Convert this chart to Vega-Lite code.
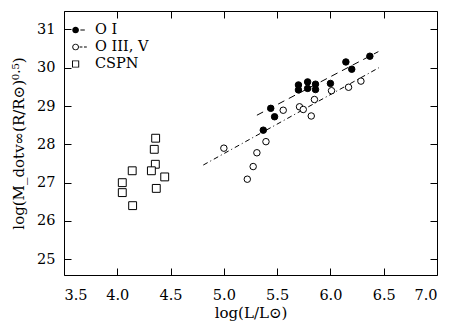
{
  "$schema": "https://vega.github.io/schema/vega-lite/v6.json",
  "width": 373,
  "height": 264,
  "autosize": "none",
  "padding": {"left": 64, "top": 11, "right": 22, "bottom": 60},
  "background": "white",
  "config": {
    "view": {"stroke": "black", "strokeWidth": 1},
    "font": "DejaVu Serif",
    "axis": {"grid": false, "domain": false, "tickColor": "black", "labelColor": "black", "titleColor": "black", "labelFont": "DejaVu Serif", "titleFont": "DejaVu Serif", "labelFontSize": 14.5, "titleFontSize": 15, "titleFontWeight": "normal"}
  },
  "datasets": {
    "pts": [
      {"x": 5.37, "y": 28.37, "series": "O I"},
      {"x": 5.44, "y": 28.94, "series": "O I"},
      {"x": 5.476, "y": 28.72, "series": "O I"},
      {"x": 5.70, "y": 29.55, "series": "O I"},
      {"x": 5.70, "y": 29.42, "series": "O I"},
      {"x": 5.786, "y": 29.63, "series": "O I"},
      {"x": 5.786, "y": 29.46, "series": "O I"},
      {"x": 5.86, "y": 29.57, "series": "O I"},
      {"x": 5.86, "y": 29.43, "series": "O I"},
      {"x": 6.0, "y": 29.59, "series": "O I"},
      {"x": 6.145, "y": 30.15, "series": "O I"},
      {"x": 6.20, "y": 29.96, "series": "O I"},
      {"x": 6.37, "y": 30.30, "series": "O I"},
      {"x": 5.0, "y": 27.9, "series": "O III, V"},
      {"x": 5.22, "y": 27.09, "series": "O III, V"},
      {"x": 5.275, "y": 27.42, "series": "O III, V"},
      {"x": 5.31, "y": 27.78, "series": "O III, V"},
      {"x": 5.395, "y": 28.07, "series": "O III, V"},
      {"x": 5.557, "y": 28.89, "series": "O III, V"},
      {"x": 5.71, "y": 28.98, "series": "O III, V"},
      {"x": 5.745, "y": 28.91, "series": "O III, V"},
      {"x": 5.82, "y": 28.74, "series": "O III, V"},
      {"x": 5.85, "y": 29.17, "series": "O III, V"},
      {"x": 6.01, "y": 29.40, "series": "O III, V"},
      {"x": 6.17, "y": 29.49, "series": "O III, V"},
      {"x": 6.286, "y": 29.65, "series": "O III, V"},
      {"x": 4.36, "y": 28.16, "series": "CSPN"},
      {"x": 4.347, "y": 27.87, "series": "CSPN"},
      {"x": 4.357, "y": 27.48, "series": "CSPN"},
      {"x": 4.32, "y": 27.31, "series": "CSPN"},
      {"x": 4.14, "y": 27.31, "series": "CSPN"},
      {"x": 4.445, "y": 27.15, "series": "CSPN"},
      {"x": 4.047, "y": 27.0, "series": "CSPN"},
      {"x": 4.047, "y": 26.74, "series": "CSPN"},
      {"x": 4.366, "y": 26.85, "series": "CSPN"},
      {"x": 4.144, "y": 26.40, "series": "CSPN"}
    ],
    "fits": [
      {"x": 5.31, "y": 28.76, "fit": "O I"},
      {"x": 6.45, "y": 30.42, "fit": "O I"},
      {"x": 4.807, "y": 27.46, "fit": "O III, V"},
      {"x": 6.455, "y": 30.0, "fit": "O III, V"}
    ]
  },
  "layer": [
    {
      "data": {"name": "fits"},
      "mark": {"type": "line", "color": "black", "strokeWidth": 1},
      "encoding": {
        "x": {"field": "x", "type": "quantitative", "scale": {"domain": [3.5, 7.0], "nice": false, "zero": false},
              "axis": {"orient": "top", "labels": false, "title": null, "values": [3.5, 4.0, 4.5, 5.0, 5.5, 6.0, 6.5, 7.0], "tickSize": -7}},
        "y": {"field": "y", "type": "quantitative", "scale": {"domain": [24.59, 31.48], "nice": false, "zero": false},
              "axis": {"orient": "right", "labels": false, "title": null, "values": [25, 26, 27, 28, 29, 30, 31], "tickSize": -7}},
        "strokeDash": {"field": "fit", "type": "nominal", "scale": {"domain": ["O I", "O III, V"], "range": [[7, 5], [5, 3, 1, 3]]}, "legend": null}
      }
    },
    {
      "data": {"name": "pts"},
      "transform": [{"filter": "datum.series !== 'CSPN'"}],
      "mark": {"type": "point", "filled": true, "stroke": "black", "strokeWidth": 1, "opacity": 1, "size": 42},
      "encoding": {
        "x": {"field": "x", "type": "quantitative",
              "axis": {"orient": "bottom", "title": "log(L/L⊙)", "values": [3.5, 4.0, 4.5, 5.0, 5.5, 6.0, 6.5, 7.0], "format": ".1f", "tickSize": -7, "labelPadding": 20, "titlePadding": 4}},
        "y": {"field": "y", "type": "quantitative",
              "axis": {"orient": "left", "title": "log(M_dotv∞(R/R⊙)⁰·⁵)", "values": [25, 26, 27, 28, 29, 30, 31], "tickSize": -7, "labelPadding": 16, "titlePadding": 10}},
        "shape": {"field": "series", "type": "nominal", "scale": {"domain": ["O I", "O III, V", "CSPN"], "range": ["circle", "circle", "square"]}, "legend": null},
        "fill": {"field": "series", "type": "nominal", "scale": {"domain": ["O I", "O III, V", "CSPN"], "range": ["black", "white", "white"]}, "legend": null}
      }
    },
    {
      "data": {"name": "pts"},
      "transform": [{"filter": "datum.series === 'CSPN'"}],
      "mark": {"type": "point", "filled": true, "stroke": "black", "strokeWidth": 1, "opacity": 1, "size": 62},
      "encoding": {
        "x": {"field": "x", "type": "quantitative", "axis": null},
        "y": {"field": "y", "type": "quantitative", "axis": null},
        "shape": {"field": "series", "type": "nominal", "scale": {"domain": ["O I", "O III, V", "CSPN"], "range": ["circle", "circle", "square"]}, "legend": null},
        "fill": {"field": "series", "type": "nominal", "legend": null}
      }
    },
    {
      "data": {"name": "pts"},
      "mark": {"type": "point", "filled": true, "color": "black", "opacity": 0, "size": 1},
      "encoding": {
        "x": {"field": "x", "type": "quantitative", "axis": null},
        "y": {"field": "y", "type": "quantitative", "axis": null},
        "shape": {"field": "series", "type": "nominal",
                  "scale": {"domain": ["O I", "O III, V", "CSPN"],
                            "range": [
                              "M-0.97,0 A0.42,0.42 0 1,1 -0.13,0 A0.42,0.42 0 1,1 -0.97,0 Z M0.05,-0.06 L0.6,-0.06 L0.6,0.06 L0.05,0.06 Z",
                              "M-0.97,0 A0.42,0.42 0 1,1 -0.13,0 A0.42,0.42 0 1,1 -0.97,0 Z M-0.85,0 A0.3,0.3 0 1,0 -0.25,0 A0.3,0.3 0 1,0 -0.85,0 Z M-0.05,-0.06 L0.3,-0.06 L0.3,0.06 L-0.05,0.06 Z M0.5,-0.06 L0.85,-0.06 L0.85,0.06 L0.5,0.06 Z",
                              "M-1,-0.45 L-0.1,-0.45 L-0.1,0.45 L-1,0.45 Z M-0.88,-0.33 L-0.88,0.33 L-0.22,0.33 L-0.22,-0.33 Z"
                            ]},
                  "legend": {"orient": "none", "legendX": 8, "legendY": 11, "title": null,
                             "labelFont": "DejaVu Serif", "labelFontSize": 14.5, "labelColor": "black",
                             "symbolSize": 256, "symbolOpacity": 1, "symbolFillColor": "black",
                             "symbolStrokeColor": "transparent", "symbolStrokeWidth": 0,
                             "rowPadding": 2, "labelOffset": 7}}
      }
    }
  ],
  "resolve": {"axis": {"x": "independent", "y": "independent"}, "scale": {"shape": "independent"}}
}
